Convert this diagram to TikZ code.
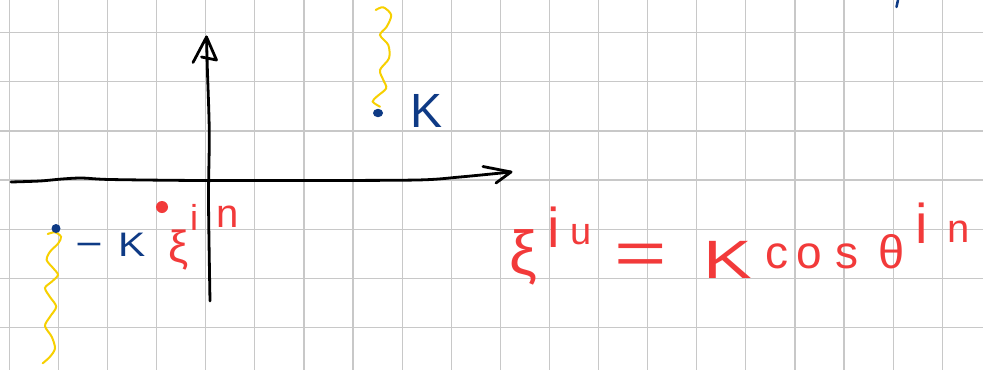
\documentclass[tikz,border=0pt]{standalone}
\usepackage{fontspec}
\setmainfont{Liberation Sans}
\definecolor{gridc}{HTML}{C8C8C8}
\definecolor{inkblue}{HTML}{0E3A85}
\definecolor{inkred}{HTML}{F23A3A}
\definecolor{inkyellow}{HTML}{F7D000}
\newcommand{\hfs}[1]{\fontsize{#1}{#1}\selectfont}
\tikzset{
  gridline/.style={draw=gridc, line width=1.2pt},
  axisline/.style={draw=black, line width=2.8pt, line cap=round, line join=round},
  waveline/.style={draw=inkyellow, line width=2pt, line cap=round},
  bluetxt/.style={text=inkblue, inner sep=0pt, anchor=base west},
  redtxt/.style={text=inkred, inner sep=0pt, anchor=base west},
}
\begin{document}
\begin{tikzpicture}[x=1pt,y=-1pt]
\useasboundingbox (0,0) rectangle (983,370);
\fill[white] (0,0) rectangle (983,370);
% grid
\foreach \k in {0,...,19} \draw[gridline] ({9.3+49.1*\k},0) -- ({9.3+49.1*\k},370);
\foreach \k in {0,...,6} \draw[gridline] (0,{32.7+49.1*\k}) -- (983,{32.7+49.1*\k});
% axes
\coordinate (xstart) at (11,182);
\coordinate (xend) at (511,172);
\coordinate (ystart) at (210,301);
\coordinate (yend) at (206.5,37);
\draw[axisline] plot[smooth] coordinates {(11,182) (40,181) (62,179) (82,178) (110,179.5) (200,180.5) (300,180.5) (417,180) (460,177) (511,172)};
\draw[axisline] (483,166.5) -- (xend) -- (496,183);
\draw[axisline] plot[smooth] coordinates {(210,301) (208.5,200) (209.3,133) (207.3,67) (206.5,37)};
\draw[axisline] (193,62.5) -- (yend) -- (216.5,60) -- (201.5,57);
% yellow waves
\draw[waveline] plot[smooth] coordinates {(375.7,10) (383.3,7.3) (391.2,15) (386.7,26.7) (380,35) (388.3,45) (389,58.3) (380,70) (383.3,80) (386.2,88.3) (376.7,96.7) (372.7,101.7) (380,106.7)};
\draw[waveline] plot[smooth] coordinates {(47.7,234) (55,232.3) (61,236.7) (58.3,243.3) (50,251.7) (46.7,260) (53.3,268.3) (58,275) (51.7,281.7) (45,288) (50,297) (56.2,306.7) (50,316.7) (45,326) (51.7,336.7) (55,348.3) (50,356.7) (42.7,363.3)};
% dots
\fill[inkblue] (378,113) ellipse (5pt and 4.2pt) node[coordinate] (dotK) {};
\fill[inkblue] (56,228.5) circle (4.5pt) node[coordinate] (dotmK) {};
\fill[inkred] (162,207) circle (6pt) node[coordinate] (dotxi) {};
% small blue stroke top right
\draw[inkblue, line width=2.5pt, line cap=round] (898,0) -- (896.5,7);
% blue labels
\node[bluetxt] (Ktop) at (410,127) {\hfs{48}K};
\node[bluetxt, xscale=1.3] (minus) at (75,256) {\hfs{36}−};
\node[bluetxt, xscale=1.2] (Kbot) at (118,256) {\hfs{34}K};
% red label near axis
\node[redtxt] (xi1) at (168,262) {\hfs{45}ξ};
\node[redtxt] (i1) at (190,230) {\hfs{36}i};
\node[redtxt] (n1) at (216,227) {\hfs{40}n};
% equation
\node[redtxt] (xi2) at (509,274) {\hfs{62}ξ};
\node[redtxt] (i2) at (547,247) {\hfs{56}i};
\node[redtxt] (u2) at (570,244) {\hfs{38}u};
\node[redtxt, xscale=1.45] (eq) at (614,274) {\hfs{62}=};
\node[redtxt, xscale=1.35] (K2) at (703,278) {\hfs{54}K};
\node[redtxt] (c2) at (765,268) {\hfs{46}c};
\node[redtxt] (o2) at (796,268) {\hfs{46}o};
\node[redtxt] (s2) at (835,268) {\hfs{46}s};
\node[redtxt] (th2) at (878,268) {\hfs{47}θ};
\node[redtxt] (i3) at (915,243) {\hfs{56}i};
\node[redtxt] (n3) at (947,242) {\hfs{40}n};
\end{tikzpicture}
\end{document}
